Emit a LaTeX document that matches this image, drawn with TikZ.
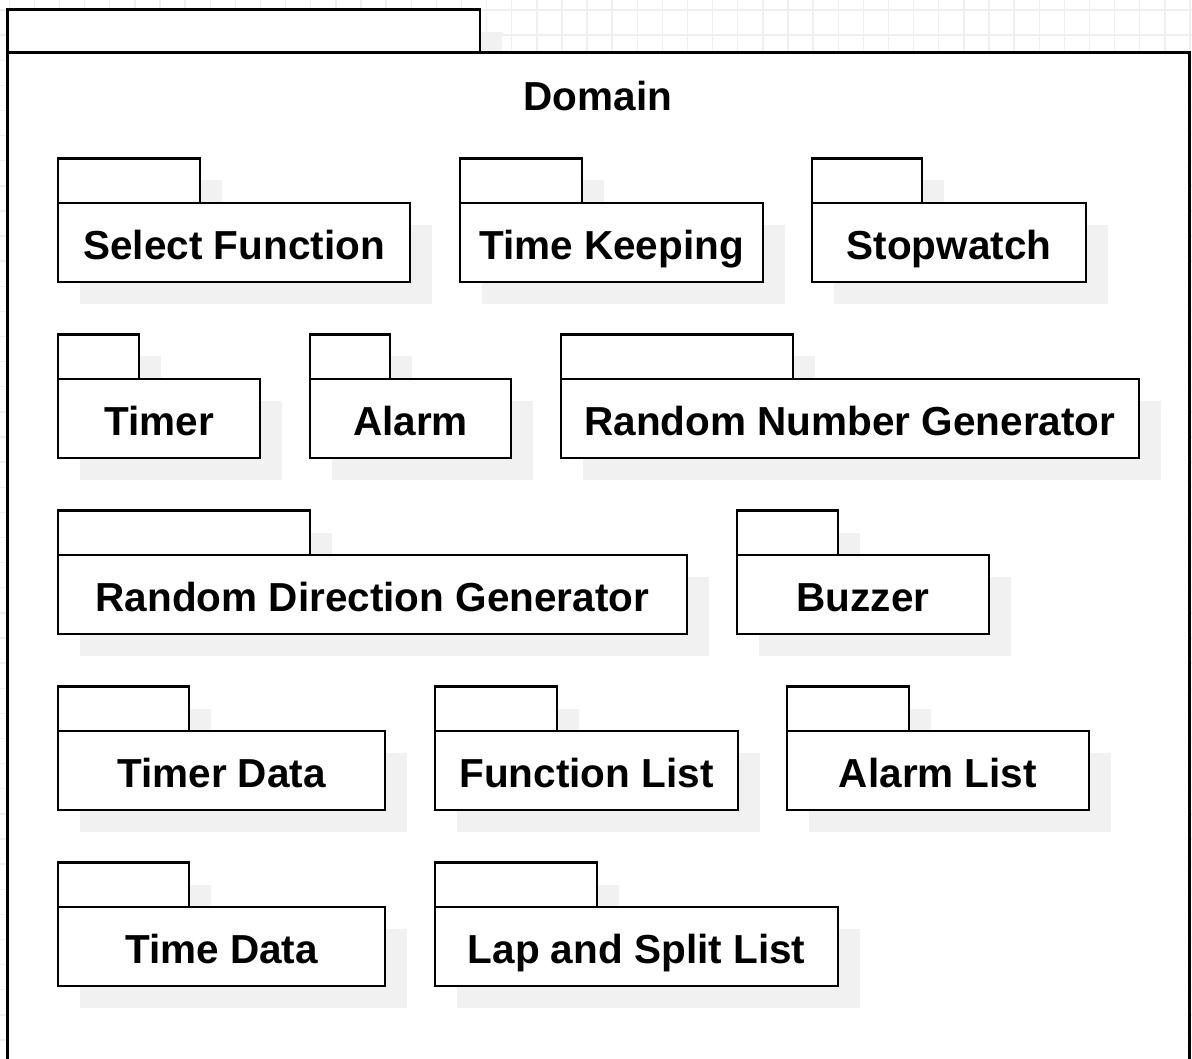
\documentclass[tikz,border=0pt]{standalone}
\usepackage{fontspec}
\setmainfont{Liberation Sans}
\definecolor{gridc}{HTML}{EFEFEF}
\definecolor{shadowc}{HTML}{F1F1F1}
\tikzset{
  x=1pt, y=-1pt,
  frame/.style={draw=black, line width=2.6pt, fill=white, inner sep=0pt, outer sep=0pt},
  pkgbody/.style={frame, font=\bfseries\fontsize{40.5}{48}\selectfont, text height=34pt, text depth=0pt},
  pkgtab/.style={frame},
  shade/.style={fill=shadowc},
}
\newcommand\pkg[6]{%
  \pgfmathsetmacro\bt{#3+44.5}%
  \pgfmathsetmacro\bb{#3+123.5}%
  \pgfmathsetmacro\bw{#5-#2}%
  \pgfmathsetmacro\tw{#4-#2}%
  \fill[shade] ({#2+22},{#3+22}) rectangle ({#4+22},{\bt+22});
  \fill[shade] ({#2+22},{\bt+22}) rectangle ({#5+22},{\bb+22});
  \node[pkgbody, anchor=north west, minimum width=\bw pt, minimum height=79pt] (#1) at (#2,\bt) {#6};
  \node[pkgtab, anchor=south west, minimum width=\tw pt, minimum height=44.5pt] (#1-tab) at (#1.north west) {};
}
\begin{document}
\begin{tikzpicture}
\useasboundingbox (0,0) rectangle (1192,1059);
\clip (0,0) rectangle (1192,1059);
\fill[white] (0,0) rectangle (1192,1059);
% background grid
\foreach \i in {0,...,47} {
  \draw[gridc, line width=1.4pt] ({9.3+\i*25.12},0) -- ({9.3+\i*25.12},1059);
}
\foreach \j in {0,...,42} {
  \draw[gridc, line width=1.4pt] (0,{10+\j*25.12}) -- (1192,{10+\j*25.12});
}
% main package
\fill[shade] (30,32) rectangle (502,74);
\node[frame, anchor=north west, minimum width=1182pt, minimum height=1100pt] (domainbody) at (7.5,52.5) {};
\node[frame, anchor=south west, minimum width=472.5pt, minimum height=43pt] (domaintab) at (domainbody.north west) {};
\node[font=\bfseries\fontsize{40.5}{48}\selectfont, text height=34pt, text depth=0pt] (domain) at (598,94) {Domain};
% packages
\pkg{sf}{58}{158.5}{200}{410}{Select Function}
\pkg{tk}{460}{158.5}{582}{763}{Time Keeping}
\pkg{sw}{812}{158.5}{922}{1086}{Stopwatch}
\pkg{tm}{58}{334.5}{139}{260}{Timer}
\pkg{al}{310}{334.5}{390}{511}{Alarm}
\pkg{rng}{561}{334.5}{793}{1139}{Random Number Generator}
\pkg{rdg}{58}{510.5}{310}{687}{Random Direction Generator}
\pkg{bz}{737}{510.5}{838}{989}{Buzzer}
\pkg{td}{58}{686.5}{189}{385}{Timer Data}
\pkg{fl}{435}{686.5}{557}{738}{Function List}
\pkg{all}{787}{686.5}{909}{1089}{Alarm List}
\pkg{tid}{58}{862.5}{189}{385}{Time Data}
\pkg{lsl}{435}{862.5}{597}{838}{Lap and Split List}
\end{tikzpicture}
\end{document}
